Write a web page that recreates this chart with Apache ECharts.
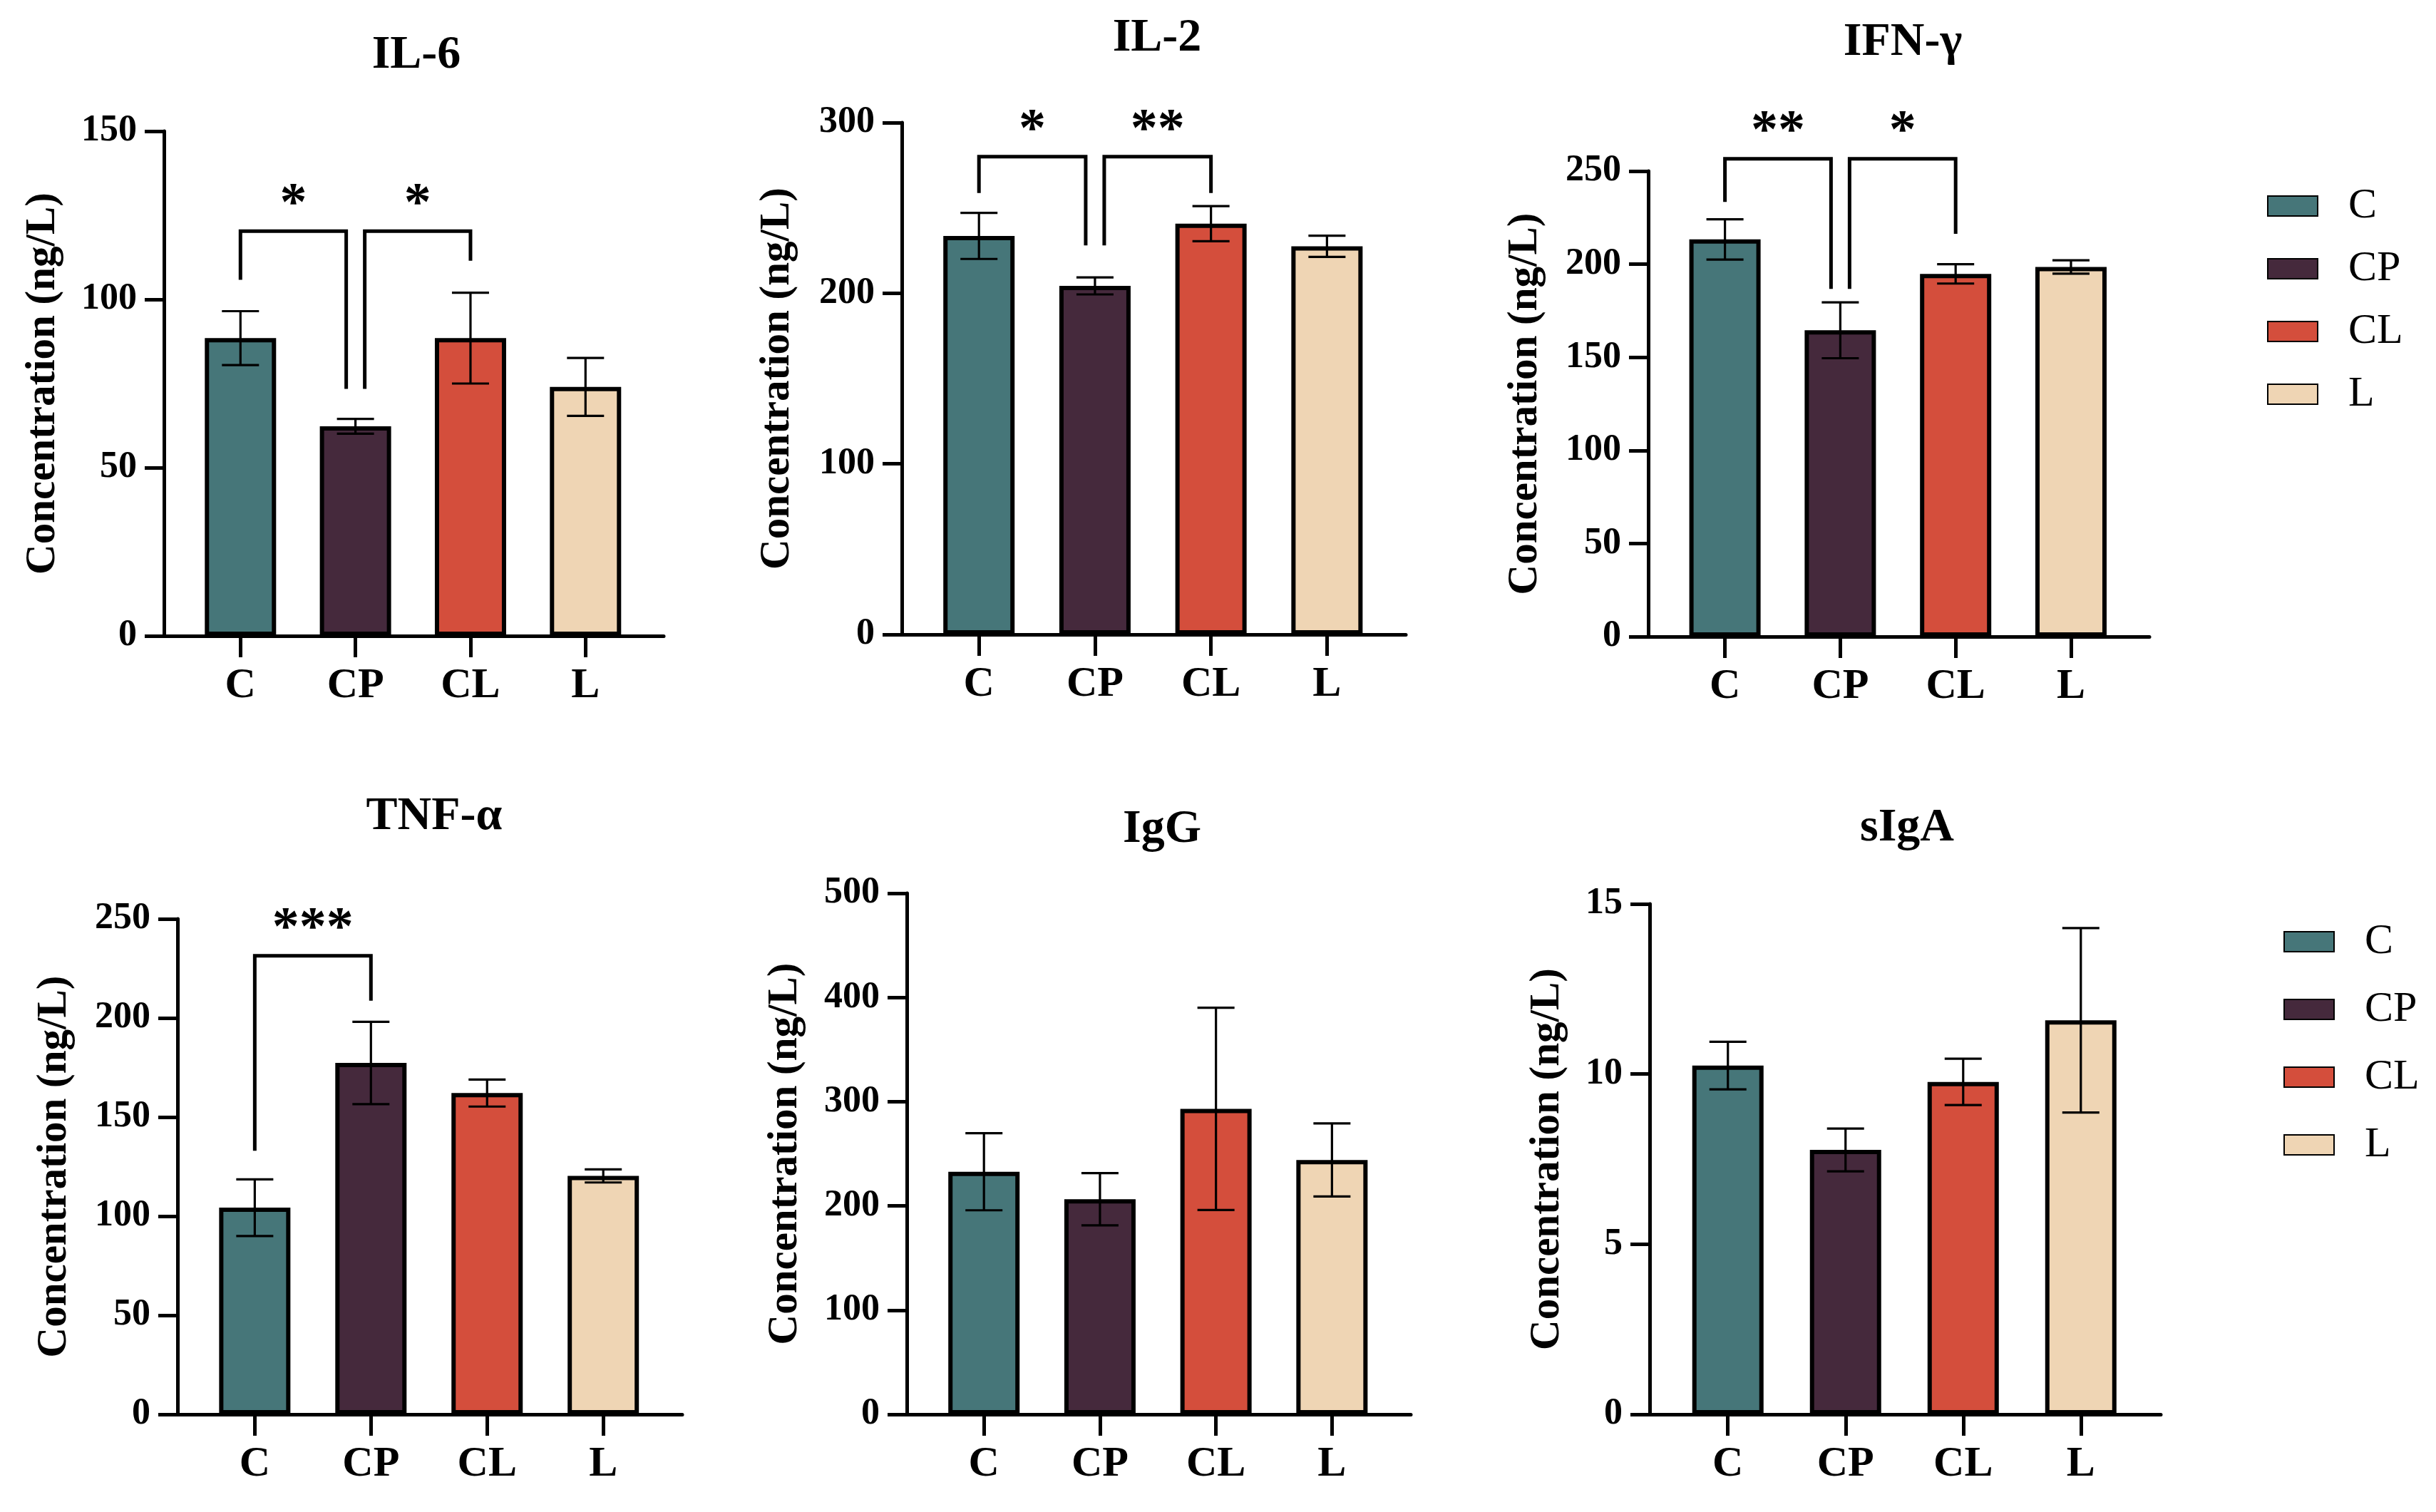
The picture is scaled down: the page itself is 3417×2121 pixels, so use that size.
<!DOCTYPE html>
<html>
<head>
<meta charset="utf-8">
<script src="https://cdn.jsdelivr.net/npm/echarts@6/dist/echarts.min.js"></script>
<style>
  html, body { margin: 0; padding: 0; background: #fff; }
  #main { width: 3417px; height: 2121px; }
</style>
</head>
<body>
<div id="main"></div>
<script>
var categories = ['C', 'CP', 'CL', 'L'];
var groupColors = ['#467679', '#45293c', '#d44e3c', '#efd5b4'];
var panelTitles = ['IL-6', 'IL-2', 'IFN-γ', 'TNF-α', 'IgG', 'sIgA'];
var yTitle = 'Concentration (ng/L)';

// means and error bars
var il6Mean = [88.5, 62.3, 88.5, 74.0];
var il6Err = [8.0, 2.2, 13.5, 8.6];
var il2Mean = [233.6, 204.3, 240.8, 227.5];
var il2Err = [13.5, 5.0, 10.3, 6.2];
var ifnMean = [213.3, 164.5, 194.8, 198.5];
var ifnErr = [10.8, 15.0, 5.2, 3.6];
var tnfMean = [104.3, 177.3, 162.1, 120.3];
var tnfErr = [14.3, 20.8, 6.8, 3.3];
var iggMean = [232.8, 206.4, 293.1, 244.1];
var iggErr = [37.0, 25.0, 97.0, 35.0];
var sigaMean = [10.25, 7.77, 9.77, 11.58];
var sigaErr = [0.70, 0.63, 0.68, 2.71];

var yMax = [150, 300, 250, 250, 500, 15];
var yStep = [50, 100, 50, 50, 100, 5];

// significance: [from, to, bracket top, left leg end, right leg end], stars
var il6Sig = [[0, 1, 120.3, 105.8, 73.4], [1, 2, 120.3, 73.4, 111.5]];
var il6Stars = ['*', '*'];
var il2Sig = [[0, 1, 280, 258.7, 228], [1, 2, 280, 228, 258.7]];
var il2Stars = ['*', '**'];
var ifnSig = [[0, 1, 256.6, 233.4, 186.7], [1, 2, 256.6, 186.7, 216.3]];
var ifnStars = ['**', '*'];
var tnfSig = [[0, 1, 231.4, 133, 208.7]];
var tnfStars = ['***'];

var means = [il6Mean, il2Mean, ifnMean, tnfMean, iggMean, sigaMean];
var errs = [il6Err, il2Err, ifnErr, tnfErr, iggErr, sigaErr];
var sigs = [il6Sig, il2Sig, ifnSig, tnfSig, [], []];
var stars = [il6Stars, il2Stars, ifnStars, tnfStars, [], []];

// layout of each panel (pixels)
var layout = [
  {left: 230, top: 184, width: 701, height: 708, nameGap: 140, tx: 579, ty: 78},
  {left: 1265, top: 172, width: 707, height: 718, nameGap: 145, tx: 1618, ty: 54},
  {left: 2312, top: 240, width: 703, height: 653, nameGap: 143, tx: 2664, ty: 60},
  {left: 249, top: 1289, width: 708, height: 695, nameGap: 143, tx: 604, ty: 1146},
  {left: 1272, top: 1253, width: 707, height: 731, nameGap: 141, tx: 1625, ty: 1164},
  {left: 2314, top: 1268, width: 717, height: 716, nameGap: 114, tx: 2670, ty: 1162}
];

var FONT = '"Liberation Serif", "Times New Roman", serif';

var chart = echarts.init(document.getElementById('main'));

var grids = [], xAxes = [], yAxes = [], titles = [], series = [];

layout.forEach(function (L, k) {
  grids.push({left: L.left, top: L.top, width: L.width, height: L.height});
  titles.push({
    text: panelTitles[k],
    left: L.tx,
    top: L.ty - 38,
    textAlign: 'center',
    textStyle: {fontFamily: FONT, fontWeight: 'bold', fontSize: 66, color: '#000'}
  });
  xAxes.push({
    type: 'value',
    gridIndex: k,
    min: -0.665,
    max: 3.68,
    splitLine: {show: false},
    axisLine: {show: true, onZero: false, lineStyle: {color: '#000', width: 5}},
    axisTick: {show: true, customValues: [0, 1, 2, 3], length: 30, lineStyle: {color: '#000', width: 5}},
    axisLabel: {
      customValues: [0, 1, 2, 3],
      formatter: function (v) { return categories[Math.round(v)]; },
      margin: 40,
      fontFamily: FONT, fontWeight: 'bold', fontSize: 60, color: '#000'
    }
  });
  yAxes.push({
    type: 'value',
    gridIndex: k,
    min: 0,
    max: yMax[k],
    interval: yStep[k],
    name: yTitle,
    nameLocation: 'middle',
    nameGap: L.nameGap,
    nameTextStyle: {fontFamily: FONT, fontWeight: 'bold', fontSize: 59, color: '#000'},
    splitLine: {show: false},
    axisLine: {show: true, onZero: false, lineStyle: {color: '#000', width: 5}},
    axisTick: {show: true, length: 27, lineStyle: {color: '#000', width: 5}},
    axisLabel: {margin: 38, fontFamily: FONT, fontWeight: 'bold', fontSize: 52, color: '#000'}
  });

  // bars, one series per group so the legend can pick them up
  categories.forEach(function (c, i) {
    series.push({
      name: c,
      type: 'bar',
      xAxisIndex: k,
      yAxisIndex: k,
      barWidth: 100,
      barGap: '-100%',
      z: 2,
      itemStyle: {color: groupColors[i], borderColor: '#000', borderWidth: 6},
      data: [[i, means[k][i]]]
    });
  });

  // error bars
  series.push({
    type: 'custom',
    xAxisIndex: k,
    yAxisIndex: k,
    z: 4,
    encode: {x: 0, y: 1},
    data: means[k].map(function (m, i) { return [i, m, errs[k][i]]; }),
    renderItem: function (params, api) {
      var x = api.value(0), m = api.value(1), e = api.value(2);
      var hi = api.coord([x, m + e]);
      var lo = api.coord([x, m - e]);
      var half = 26;
      var st = {stroke: '#000', lineWidth: 3.2};
      return {
        type: 'group',
        children: [
          {type: 'line', shape: {x1: hi[0], y1: hi[1], x2: lo[0], y2: lo[1]}, style: st},
          {type: 'line', shape: {x1: hi[0] - half, y1: hi[1], x2: hi[0] + half, y2: hi[1]}, style: st},
          {type: 'line', shape: {x1: lo[0] - half, y1: lo[1], x2: lo[0] + half, y2: lo[1]}, style: st}
        ]
      };
    }
  });

  // significance brackets
  if (sigs[k].length) {
    var sig = sigs[k], lab = stars[k];
    series.push({
      type: 'custom',
      xAxisIndex: k,
      yAxisIndex: k,
      z: 4,
      clip: false,
      encode: {x: [0, 1], y: [2, 3, 4]},
      data: sig,
      renderItem: function (params, api) {
        var s = sig[params.dataIndex];
        var shiftL = 0, shiftR = 0;
        sig.forEach(function (o, j) {
          if (j === params.dataIndex) return;
          if (o[0] === s[1]) shiftR = -13;
          if (o[1] === s[0]) shiftL = 13;
        });
        var a = api.coord([s[0], s[3]]);
        var t1 = api.coord([s[0], s[2]]);
        var t2 = api.coord([s[1], s[2]]);
        var b = api.coord([s[1], s[4]]);
        var xl = a[0] + shiftL, xr = b[0] + shiftR;
        return {
          type: 'group',
          children: [
            {type: 'polyline',
             shape: {points: [[xl, a[1]], [xl, t1[1]], [xr, t2[1]], [xr, b[1]]]},
             style: {stroke: '#000', lineWidth: 5, fill: null, lineJoin: 'miter'}},
            {type: 'text',
             style: {text: lab[params.dataIndex], x: (xl + xr) / 2, y: t1[1] - 36,
                     textAlign: 'center', textVerticalAlign: 'middle',
                     font: 'bold 76px ' + FONT, fill: '#000'}}
          ]
        };
      }
    });
  }
});

var legendBase = {
  data: categories,
  orient: 'vertical',
  icon: 'rect',
  itemWidth: 70,
  itemHeight: 28,
  selectedMode: false,
  textStyle: {fontFamily: FONT, fontSize: 60, color: '#000', padding: [0, 0, 0, 38]}
};

chart.setOption({
  animation: false,
  backgroundColor: '#fff',
  title: titles,
  grid: grids,
  xAxis: xAxes,
  yAxis: yAxes,
  legend: [
    Object.assign({}, legendBase, {left: 3175, top: 254, itemGap: 28}),
    Object.assign({}, legendBase, {left: 3198, top: 1286, itemGap: 35})
  ],
  series: series
});
</script>
</body>
</html>
